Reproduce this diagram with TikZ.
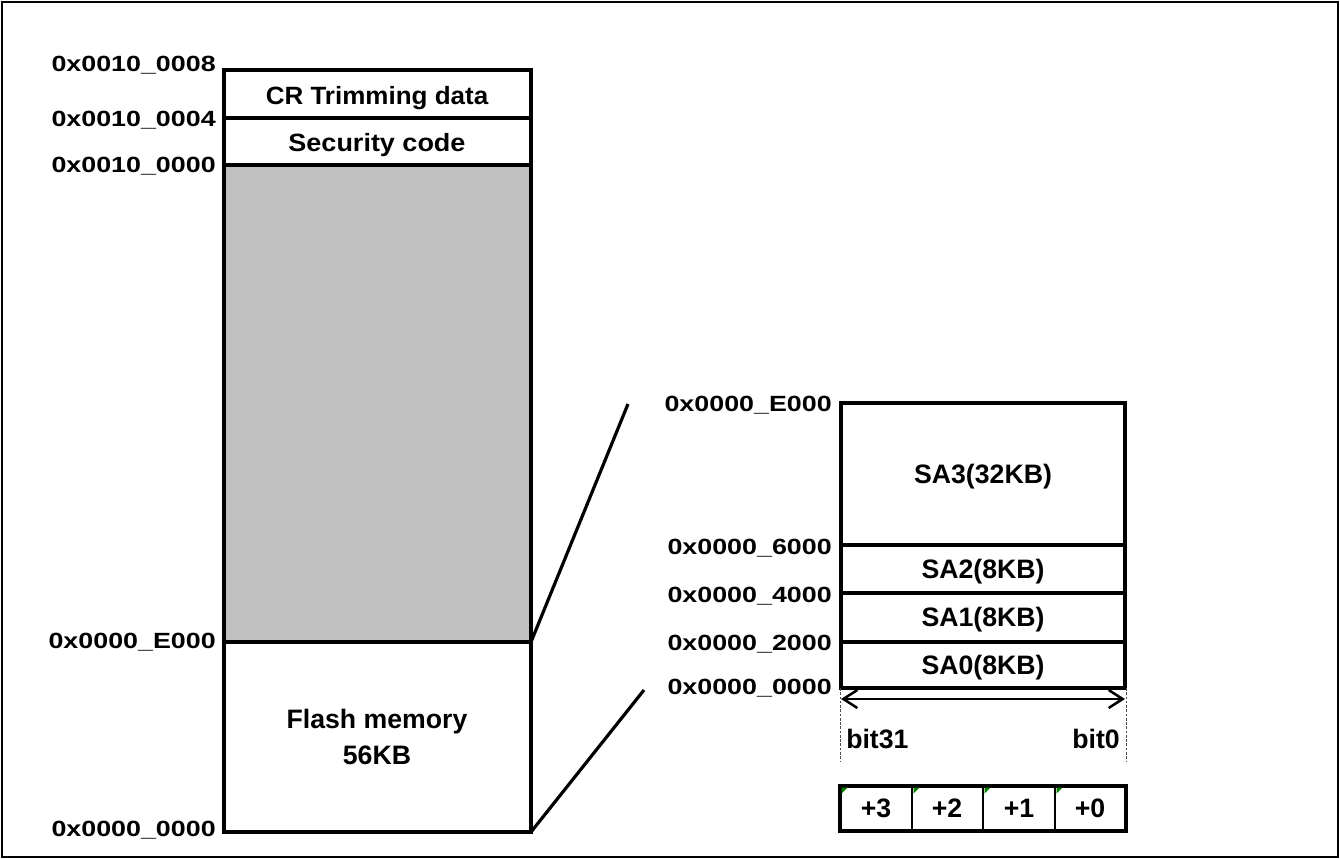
\documentclass[tikz,border=0pt]{standalone}
\usepackage{fontspec}
\setmainfont{Liberation Sans}
\usetikzlibrary{arrows.meta}
\definecolor{memgray}{RGB}{192,192,192}
\definecolor{cornergreen}{RGB}{0,128,0}
\newcommand{\wide}[2][1.22]{\scalebox{#1}[1]{#2}}
\tikzset{
  addr/.style={anchor=east, inner sep=0pt, text depth=0pt, font=\bfseries\fontsize{16.5}{18}\selectfont},
  txt/.style={inner sep=0pt, text depth=0pt, align=center, font=\bfseries\fontsize{20}{27}\selectfont},
  box/.style={draw, line width=2.4pt},
  barb/.tip={Straight Barb[length=10.5pt,width=13.5pt]},
}
\begin{document}
\begin{tikzpicture}[x=0.75pt, y=-0.75pt]
  \useasboundingbox (0,0) rectangle (1340,859);
  \draw[line width=1.6pt] (2,2) rectangle (1338,857);
  \fill[memgray] (224,165) rectangle (531,642);
  \draw[box] (224,70) rectangle (531,832);
  \foreach \y in {118,165,642} \draw[box] (224,\y) -- (531,\y);
  \draw[box] (841,403) rectangle (1125,688);
  \foreach \y in {545,593,642} \draw[box] (841,\y) -- (1125,\y);
  \draw[box] (840,786) rectangle (1126,831);
  \foreach \x in {912,983,1055} \draw[line width=1.6pt] (\x,786) -- (\x,831);
  \foreach \x in {840,912,983,1055} \fill[cornergreen] (\x+1.5,787.5) -- ++(6,0) -- ++(-6,6) -- cycle;
  \coordinate (lE) at (531,642);
  \coordinate (l0) at (531,832);
  \coordinate (rE) at (628,404);
  \coordinate (r0) at (644,690);
  \draw[line width=2.4pt] (lE) -- (rE);
  \draw[line width=2.4pt] (l0) -- (r0);
  \coordinate (b31) at (841,699);
  \coordinate (b0) at (1125,699);
  \draw[barb-barb, line width=1.9pt] (b31) -- (b0);
  \foreach \x in {840,1126} \draw[black!70, line width=0.6pt, dash pattern=on 2pt off 1.2pt] (\x,688) -- (\x,762);
  \node[addr] (a8) at (216,64) {\wide{0x0010\_0008}};
  \node[addr] (a4) at (216,119) {\wide{0x0010\_0004}};
  \node[addr] (a0) at (216,165) {\wide{0x0010\_0000}};
  \node[addr] (lEt) at (216,641) {\wide{0x0000\_E000}};
  \node[addr] (l0t) at (216,829) {\wide{0x0000\_0000}};
  \node[addr] (sE) at (832,404) {\wide{0x0000\_E000}};
  \node[addr] (s6) at (832,547) {\wide{0x0000\_6000}};
  \node[addr] (s4) at (832,595) {\wide{0x0000\_4000}};
  \node[addr] (s2) at (832,643) {\wide{0x0000\_2000}};
  \node[addr] (s0) at (832,687) {\wide{0x0000\_0000}};
  \node[txt, font=\bfseries\fontsize{18.75}{22}\selectfont] (crt) at (377,95) {\wide[1.04]{CR Trimming data}};
  \node[txt, font=\bfseries\fontsize{18.75}{22}\selectfont] (sec) at (377,142) {\wide[1.08]{Security code}};
  \node[txt] (flash) at (377,737) {Flash memory\\56KB};
  \node[txt] (sa3) at (983,474) {SA3(32KB)};
  \node[txt] (sa2) at (983,569) {SA2(8KB)};
  \node[txt] (sa1) at (983,617) {SA1(8KB)};
  \node[txt] (sa0) at (983,665) {SA0(8KB)};
  \node[txt, anchor=west] (t31) at (846,739) {bit31};
  \node[txt, anchor=east] (t0) at (1120,739) {bit0};
  \node[txt] (p3) at (876,808) {+3};
  \node[txt] (p2) at (947,808) {+2};
  \node[txt] (p1) at (1019,808) {+1};
  \node[txt] (p0) at (1090,808) {+0};
\end{tikzpicture}
\end{document}
